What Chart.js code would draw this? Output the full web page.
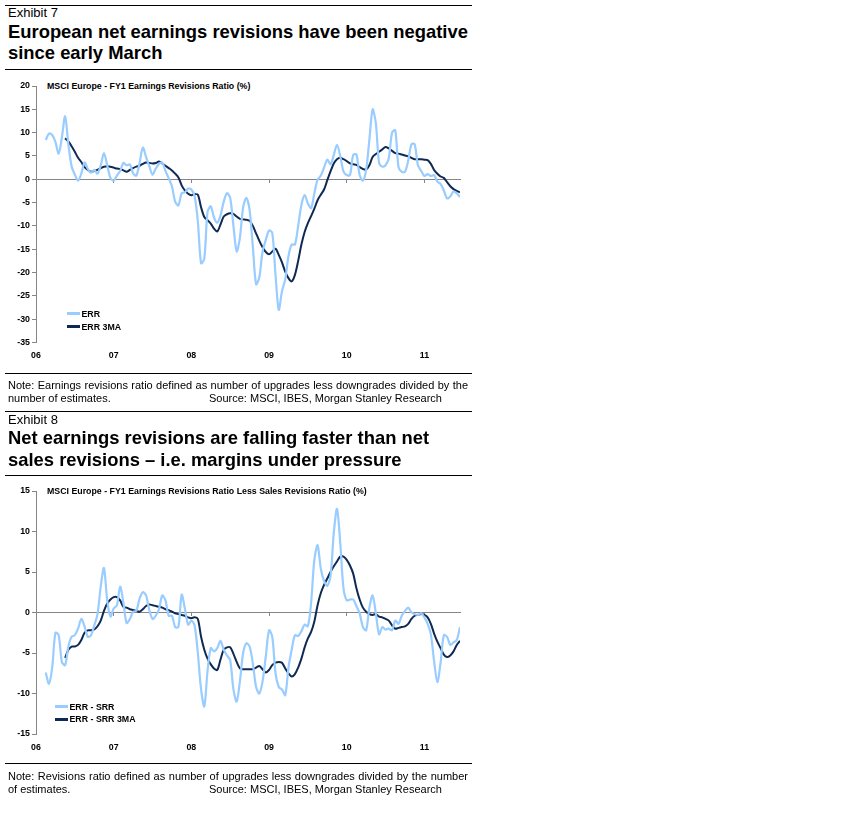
<!DOCTYPE html>
<html>
<head>
<meta charset="utf-8">
<title>MSCI Europe earnings revisions</title>
<script src="https://cdn.jsdelivr.net/npm/chart.js@4.4.1/dist/chart.umd.min.js"></script>
<style>
 body { margin: 0; background: #fff; font-family: "Liberation Sans", Arial, sans-serif; color: #000; }
 #page { position: relative; width: 843px; height: 831px; overflow: hidden; }
 .rule { position: absolute; left: 5px; width: 467px; height: 1px; background: #000; }
 .exh { position: absolute; left: 8px; font-size: 13px; line-height: 13px; white-space: nowrap; }
 .ttl { position: absolute; left: 8px; font-size: 18.4px; line-height: 21.5px; font-weight: bold; white-space: nowrap; }
 .sub { position: absolute; left: 47px; font-size: 8.8px; line-height: 9px; font-weight: bold; white-space: nowrap; }
 .box { position: absolute; left: 0; width: 475px; }
 .leg { position: absolute; height: 10px; display: flex; align-items: center; font-size: 8.8px; font-weight: bold; white-space: nowrap; }
 .leg i { display: inline-block; width: 13px; margin-right: 1.5px; }
 .note { position: absolute; left: 8px; width: 460px; font-size: 11px; line-height: 13.4px; }
 .note .l1 { text-align: justify; text-align-last: justify; }
 .note .l2 { position: relative; white-space: nowrap; }
 .note .src { position: absolute; left: 201px; top: 0; }
</style>
</head>
<body>
<div id="page">
 <div class="rule" style="top:5px"></div>
 <div class="exh" style="top:6.3px">Exhibit 7</div>
 <div class="ttl" style="top:20.6px">European net earnings revisions have been negative<br>since early March</div>
 <div class="rule" style="top:69px"></div>
 <div class="sub" style="top:81.7px">MSCI Europe - FY1 Earnings Revisions Ratio (%)</div>
 <div class="box" style="top:76px;height:300px"><canvas id="errChart"></canvas></div>
 <div class="leg" style="left:67px;top:308.5px"><i style="height:3px;background:#99ccff"></i>ERR</div>
 <div class="leg" style="left:67px;top:321.5px"><i style="height:2.5px;background:#0e2a52"></i>ERR 3MA</div>
 <div class="rule" style="top:373px"></div>
 <div class="note" style="top:378.8px">
  <div class="l1">Note: Earnings revisions ratio defined as number of upgrades less downgrades divided by the</div>
  <div class="l2">number of estimates.<span class="src">Source: MSCI, IBES, Morgan Stanley Research</span></div>
 </div>

 <div class="rule" style="top:411px"></div>
 <div class="exh" style="top:413px">Exhibit 8</div>
 <div class="ttl" style="top:427.2px">Net earnings revisions are falling faster than net<br>sales revisions – i.e. margins under pressure</div>
 <div class="rule" style="top:475px"></div>
 <div class="sub" style="top:486.7px">MSCI Europe - FY1 Earnings Revisions Ratio Less Sales Revisions Ratio (%)</div>
 <div class="box" style="top:481px;height:283px"><canvas id="spreadChart"></canvas></div>
 <div class="leg" style="left:55px;top:701.7px"><i style="height:3px;background:#99ccff"></i>ERR - SRR</div>
 <div class="leg" style="left:55px;top:714.3px"><i style="height:2.5px;background:#0e2a52"></i>ERR - SRR 3MA</div>
 <div class="rule" style="top:763px"></div>
 <div class="note" style="top:769.5px">
  <div class="l1">Note: Revisions ratio defined as number of upgrades less downgrades divided by the number</div>
  <div class="l2">of estimates.<span class="src">Source: MSCI, IBES, Morgan Stanley Research</span></div>
 </div>
</div>

<script>
'use strict';

// readings are every half month, counted from the start of 2006
var X_ORIGIN = 2006;
var STEPS_PER_YEAR = 24;
var LAST_STEP = 131; // mid June 2011
var yearLabels = ['06', '07', '08', '09', '10', '11'];

// Exhibit 7 - ERR and its 3 month average
var errStart = 3;
var err = [
 8.4, 9.8, 9.5, 8, 5.5, 9, 13.5, 7.5, 2.8, 1, -0.3, 1.2, 3.6, 2.2, 1.4, 2, 1.2, 3, 5.6, 3, 0.3,
 -0.3, 0.8, 1.8, 3.5, 3, 3.2, 1.3, 0.8, 3.5, 6.8, 4.8, 2.8, 1, 2.3, 3.3, 3.6, 1.8, 0.2, -1.5, -4.8,
 -5.6, -3, -2.8, -2, -2.2, -3.6, -9, -18, -17, -7, -5.8, -8.2, -9.3, -7.8, -4.8, -3, -4, -10, -15.5, -12.5,
 -6, -4, -6.6, -14.5, -22.5, -21, -15.5, -13, -11, -11.5, -20.5, -28, -24, -21.5, -16.5, -14, -14, -10, -5.5, -3.4,
 -5.2, -6.2, -3, -0.1, 0.8, 2.5, 4.2, 3.2, 5.2, 7.4, 5, 1.7, 0.9, 0.9, 5.2, 5.3, 0.9, -0.3, 2, 8.5,
 15, 12, 3.5, 2.7, 3, 4.5, 10, 10.5, 2.6, 1.6, 1.6, 4, 7.5, 7.5, 3, 1.8, 0.7, 1.1, 0.7, 0.9, -0.5,
 -1, -2.4, -4.1, -3.7, -2.6, -3, -3.8
];
var errMaStart = 9;
var errMa = [
 8.8, 8.1, 7.1, 5.9, 4.6, 3.7, 2.6, 2, 1.6, 1.8, 2, 2.4, 2.7, 2.8, 2.7, 2.5, 2.3, 2.2, 1.9, 1.6,
 2, 2.4, 2.7, 2.9, 3.3, 3.6, 3.5, 3.4, 3.5, 3.8, 3.4, 2.9, 2.4, 1.9, 1.2, 0.4, -1.3, -2.4, -3.1, -3.4,
 -3.2, -3.3, -6, -8.1, -8.8, -9.5, -10.6, -11.2, -9.7, -8, -7.5, -7.3, -7.4, -8, -8.5, -8.6, -8.7, -8.9, -10, -11.6,
 -13.2, -14.6, -15.6, -16.1, -15.5, -14.9, -16.2, -17.8, -19.8, -21.2, -21.9, -20.5, -17.5, -14, -11.3, -9.4, -7.9, -6.3, -4.5, -3.3,
 -2.2, -0.2, 1.7, 3.4, 4.3, 4.6, 4.3, 3.9, 3.4, 3.2, 3.1, 2.6, 2.2, 2.1, 3, 4.8, 5.4, 5.9, 6.4, 6.9,
 6.6, 6.1, 5.6, 5.5, 5.3, 5.1, 4.9, 4.6, 4.3, 4.3, 4.3, 4.2, 4.1, 3.3, 2, 1.2, 0.6, 0.3, -0.6, -1.5,
 -2.1, -2.5, -2.8
];

// Exhibit 8 - ERR less SRR and its 3 month average
var spreadStart = 3;
var errSrr = [
 -7.4, -8.8, -6.8, -2.5, -2.8, -6.1, -6.5, -4.2, -3, -2.8, -2, -0.8, -1.7, -3, -2.8, -1.6, -0.2, 3.2, 5.5, 1.5, -0.5,
 0.5, 0.9, 3.2, 1.2, -1.3, -0.8, 0.1, 0.2, 1.7, 2.5, 2.1, 0.3, -0.8, -0.4, 0.4, 2.1, 1.5, -0.4, -0.4, -1.8,
 -1.8, 2.2, 0.5, -1.5, -1, -1.6, -5, -9.5, -11.6, -7.2, -4.4, -4.8, -4.4, -3.5, -4.6, -5.3, -5.9, -9.5, -11, -8.5,
 -5, -3.8, -4.2, -6.3, -9.2, -10, -8.5, -5.4, -2.2, -3, -7.5, -9.2, -9.5, -10.2, -6.8, -4.6, -2.8, -2.9, -2.3, -1.5,
 -1.7, 1.2, 6.5, 8.3, 5.4, 3.9, 3.3, 4.5, 9.8, 12.8, 8.6, 3, 1.5, 1.6, 1.6, 0.8, -0.1, -1.8, -2.2, 0.6,
 2.1, -0.1, -2.7, -1.8, -2.1, -2, -2.2, -1, -1.4, -0.4, 0.2, 0.6, 0, -0.2, -0.3, -0.1, -0.6, -1.4, -2.7,
 -6, -8.6, -6.2, -2.8, -3, -4, -3.7, -3.4, -1.8
];
var errSrrMaStart = 9;
var errSrrMa = [
 -5.6, -4.6, -4.2, -4.2, -4, -3.4, -2.5, -2.2, -2.2, -2.1, -1.7, -1, 0.2, 1.1, 1.6, 1.9, 1.9, 1.5, 0.7, 0.6,
 0.4, 0.3, 0.2, 0.1, 0.4, 0.8, 1, 0.9, 0.8, 0.7, 0.6, 0.4, 0.3, 0.1, -0.1, -0.2, -0.3, -0.4, -0.6, -0.7,
 -0.6, -0.8, -3, -4.6, -5.7, -6.4, -6.9, -7.1, -5.8, -4.6, -4.3, -4.3, -5.1, -6.1, -6.9, -7, -7, -7, -7, -6.8,
 -6.6, -7, -7.4, -7.1, -6.5, -6.2, -6.1, -6.2, -6.9, -7.5, -7.9, -7.6, -6.8, -5.7, -4.3, -3.2, -2.4, -1.1, 0.9, 2.4,
 3.4, 4.2, 5, 5.7, 6.3, 6.9, 6.9, 6.5, 5.8, 4.8, 3, 1.6, 0.6, 0.1, -0.2, -0.3, -0.2, -0.5, -0.6, -0.8,
 -1, -1.6, -2, -1.9, -1.8, -1.7, -1.4, -0.8, -0.4, -0.3, -0.2, -0.3, -0.6, -1.4, -2.6, -3.6, -4.4, -5.2, -5.5, -5.3,
 -4.8, -4, -3.5
];

var LIGHT = '#99ccff';
var DARK = '#0e2a52';
var AXIS_GREY = '#868686';

Chart.defaults.font.family = '"Liberation Sans", Arial, sans-serif';

function toPoints(values, start) {
 return values.map(function (v, i) {
  return { x: X_ORIGIN + (start + i) / STEPS_PER_YEAR, y: v };
 });
}

function drawChart(id, light, dark, yMin, yMax, bottomPad) {
 var xMax = X_ORIGIN + LAST_STEP / STEPS_PER_YEAR;
 var tickFont = { size: 8.8, weight: 'bold' };
 var canvas = document.getElementById(id).getContext('2d');
 return new Chart(canvas, {
  type: 'line',
  data: {
   datasets: [{
    label: light.label,
    data: toPoints(light.values, light.start),
    borderColor: LIGHT,
    borderWidth: 2.2,
    xAxisID: 'x'
   }, {
    label: dark.label,
    data: toPoints(dark.values, dark.start),
    borderColor: DARK,
    borderWidth: 2,
    xAxisID: 'x'
   }]
  },
  options: {
   responsive: true,
   maintainAspectRatio: false,
   animation: false,
   layout: { padding: { left: 0, right: 15, top: 10, bottom: bottomPad } },
   elements: { point: { radius: 0 }, line: { tension: 0.3 } },
   plugins: { legend: { display: false }, tooltip: { enabled: false } },
   scales: {
    x: {
     type: 'linear', min: X_ORIGIN, max: xMax, position: 'bottom',
     grid: { display: false, drawTicks: false }, border: { display: false },
     ticks: {
      stepSize: 1, includeBounds: false, autoSkip: false, maxRotation: 0,
      padding: 8, color: '#000', font: tickFont,
      callback: function (v) { return yearLabels[v - X_ORIGIN]; }
     },
     afterFit: function (s) { s.height = 20; }
    },
    // zero line with the year tick marks hanging off it
    x0: {
     type: 'linear', min: X_ORIGIN, max: xMax, position: { y: 0 },
     ticks: { display: false, stepSize: 1, includeBounds: false },
     grid: { drawOnChartArea: false, tickLength: 3, color: AXIS_GREY },
     border: { color: AXIS_GREY },
     afterFit: function (s) { s.height = 0; }
    },
    y: {
     min: yMin, max: yMax, position: 'left',
     grid: { drawOnChartArea: false, tickLength: 4, color: AXIS_GREY },
     border: { color: AXIS_GREY },
     ticks: { stepSize: 5, padding: 2, color: '#000', font: tickFont },
     afterFit: function (s) { s.width = 36; }
    }
   }
  }
 });
}

drawChart('errChart',
 { label: 'ERR', values: err, start: errStart },
 { label: 'ERR 3MA', values: errMa, start: errMaStart },
 -35, 20, 13.5);

drawChart('spreadChart',
 { label: 'ERR - SRR', values: errSrr, start: spreadStart },
 { label: 'ERR - SRR 3MA', values: errSrrMa, start: errSrrMaStart },
 -15, 15, 10);
</script>
</body>
</html>
